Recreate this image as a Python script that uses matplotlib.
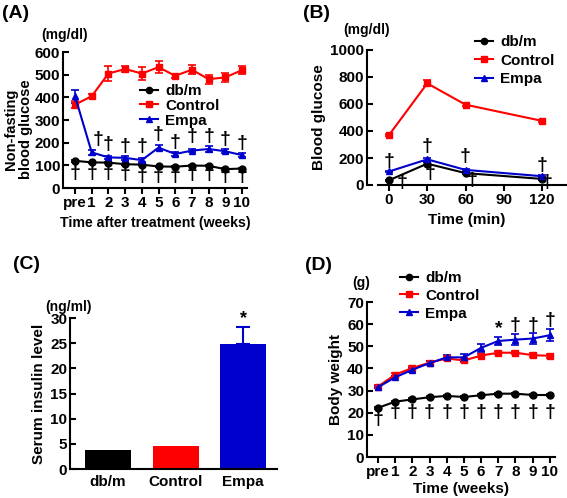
import matplotlib
matplotlib.use('Agg')
import matplotlib.pyplot as plt
from matplotlib.lines import Line2D

plt.rcParams['font.family'] = ['Liberation Sans', 'DejaVu Sans']
plt.rcParams['font.weight'] = 'bold'
plt.rcParams['axes.labelweight'] = 'bold'
plt.rcParams['font.size'] = 10

# ====== Data ======
groups = ['db/m', 'Control', 'Empa']
colors = ['black', '#ff0000', '#0000cc']
markers = ['o', 's', '^']

# (A) non-fasting blood glucose
weeks_labels = ['pre', '1', '2', '3', '4', '5', '6', '7', '8', '9', '10']
weeks = list(range(11))
a_dbm = [120, 113, 112, 105, 103, 95, 94, 99, 98, 83, 86]
a_dbm_err = [4, 3, 3, 3, 3, 3, 3, 3, 3, 4, 3]
a_ctrl = [368, 405, 505, 525, 505, 533, 495, 522, 480, 488, 520]
a_ctrl_err = [15, 8, 35, 12, 30, 27, 8, 20, 20, 20, 18]
a_empa = [405, 157, 135, 133, 123, 178, 150, 165, 172, 162, 145]
a_empa_err = [28, 10, 8, 8, 8, 12, 8, 8, 12, 8, 8]
a_dag_hi_x = [1.35, 2, 3, 4, 5, 6, 7, 8, 9, 10]
a_dag_hi_y = [213, 191, 184, 184, 235, 200, 228, 228, 213, 195]
a_dag_lo_y = [66, 66, 66, 58, 50, 51, 51, 58, 58, 50, 51]

# (B) glucose tolerance
minutes = [0, 30, 60, 120]
b_dbm = [35, 158, 88, 45]
b_dbm_err = [5, 10, 6, 5]
b_ctrl = [370, 753, 595, 475]
b_ctrl_err = [10, 22, 12, 10]
b_empa = [100, 190, 112, 65]
b_empa_err = [6, 10, 8, 6]
b_dag_hi_y = [173, 284, 210, 143]
b_dag_lo_x = [10, 32, 65, 124]
b_dag_lo_y = [17, 86, 37, 17]

# (C) serum insulin
c_vals = [3.8, 4.5, 24.8]
c_errs = [0, 0, 3.4]

# (D) body weight
d_labels = ['pre', '1', '2', '3', '4', '5', '6', '7', '8', '9', '10']
d_dbm = [22.2, 25.0, 26.0, 27.0, 27.6, 27.1, 27.9, 28.6, 28.6, 28.0, 28.0]
d_dbm_err = [0.5, 0.5, 0.5, 0.5, 0.5, 0.5, 0.5, 0.5, 0.5, 0.5, 0.5]
d_ctrl = [31.8, 37.2, 40.2, 42.6, 44.5, 43.6, 45.8, 47.1, 47.1, 46.0, 45.7]
d_ctrl_err = [0.5, 0.6, 0.7, 0.7, 0.8, 0.8, 0.8, 0.8, 0.8, 0.8, 0.8]
d_empa = [31.5, 36.0, 39.4, 42.4, 45.0, 45.0, 49.3, 52.4, 53.0, 53.5, 55.0]
d_empa_err = [0.5, 0.5, 0.8, 0.8, 1.0, 1.5, 1.8, 2.0, 2.5, 2.5, 2.7]
d_dag_lo_y = [17, 20, 20, 20, 20, 20, 20, 20, 20, 20, 20]
d_mark_x = [7, 8, 9, 10]
d_mark_txt = ['*', '†', '†', '†']
d_mark_y = [57.8, 59.3, 59.3, 61.8]

W, H = 567, 498
fig = plt.figure(figsize=(W / 100, H / 100), dpi=100)


def px_axes(x0, y_top, x1, y_bot):
    return fig.add_axes([x0 / W, 1 - y_bot / H, (x1 - x0) / W, (y_bot - y_top) / H])


def style(ax):
    ax.spines['top'].set_visible(False)
    ax.spines['right'].set_visible(False)
    for s in ('left', 'bottom'):
        ax.spines[s].set_linewidth(1.5)
    ax.tick_params(width=1.5, length=4, labelsize=11)
    ax.tick_params(axis='y', direction='in', pad=2)
    ax.tick_params(axis='x', direction='out', pad=2)
    for lab in ax.get_xticklabels() + ax.get_yticklabels():
        lab.set_fontweight('bold')


def series(ax, x, ys, errs):
    for y, e, c, m, g in zip(ys, errs, colors, markers, groups):
        ax.errorbar(x, y, yerr=e, color=c, marker=m, markersize=5, lw=1.5,
                    capsize=3, elinewidth=1.2, capthick=1.2)


def legend(ax, x, y, spacing):
    handles = [Line2D([], [], color=c, marker=m, markersize=4.5, lw=1.5)
               for c, m in zip(colors, markers)]
    ax.legend(handles, groups, loc='upper left', bbox_to_anchor=(x / W, 1 - y / H),
              bbox_transform=fig.transFigure, frameon=False, fontsize=11,
              handlelength=1.2, handletextpad=0.45, labelspacing=spacing,
              borderpad=0, borderaxespad=0)


def dag(ax, x, y, t='†', size=14):
    ax.text(x, y, t, ha='center', va='center', fontsize=size, fontweight='bold')


# ====== (A) ======
axA = px_axes(63, 52, 247, 188)
series(axA, weeks, [a_dbm, a_ctrl, a_empa], [a_dbm_err, a_ctrl_err, a_empa_err])
axA.set_xlim(-0.72, 10.3)
axA.set_ylim(0, 600)
axA.set_yticks(range(0, 601, 100))
axA.set_xticks(weeks)
axA.set_xticklabels(weeks_labels)
axA.set_ylabel('Non-fasting\nblood glucose', fontsize=10.5, linespacing=1.05)
axA.yaxis.set_label_coords(-0.165, 0.43)
axA.set_xlabel('Time after treatment (weeks)', fontsize=10.2, labelpad=4)
style(axA)
for x, y in zip(a_dag_hi_x, a_dag_hi_y):
    dag(axA, x, y)
for x, y in zip(weeks, a_dag_lo_y):
    dag(axA, x, y)
legend(axA, 140, 84, 0.05)
fig.text(65 / W, 1 - 35 / H, '(mg/dl)', ha='center', va='center', fontsize=10, fontweight='bold')
fig.text(2 / W, 1 - 14 / H, '(A)', ha='left', va='center', fontsize=14, fontweight='bold')

# ====== (B) ======
axB = px_axes(367, 50, 567, 185)
series(axB, minutes, [b_dbm, b_ctrl, b_empa], [b_dbm_err, b_ctrl_err, b_empa_err])
axB.set_xlim(-17.25, 139.6)
axB.set_ylim(0, 1000)
axB.set_yticks(range(0, 1001, 200))
axB.set_xticks([0, 30, 60, 90, 120])
axB.spines['bottom'].set_bounds(-8.6, 139.6)
axB.set_ylabel('Blood glucose', fontsize=11, labelpad=3)
axB.set_xlabel('Time (min)', fontsize=11, labelpad=4)
style(axB)
for x, y in zip(minutes, b_dag_hi_y):
    dag(axB, x, y)
for x, y in zip(b_dag_lo_x, b_dag_lo_y):
    dag(axB, x, y)
legend(axB, 475, 35, 0.3)
fig.text(367 / W, 1 - 30 / H, '(mg/dl)', ha='center', va='center', fontsize=10, fontweight='bold')
fig.text(303 / W, 1 - 14 / H, '(B)', ha='left', va='center', fontsize=14, fontweight='bold')

# ====== (C) ======
axC = px_axes(70, 318, 277, 469)
xc = list(range(len(groups)))
axC.bar(xc, c_vals, width=0.68, color=colors)
axC.errorbar(xc[2:], c_vals[2:], yerr=[[0], c_errs[2:]], fmt='none', ecolor=colors[2],
             capsize=5, elinewidth=1.5, capthick=1.5)
axC.set_xlim(-0.56, 2.5)
axC.set_ylim(0, 30)
axC.set_yticks(range(0, 31, 5))
axC.set_xticks(xc)
axC.set_xticklabels(groups)
axC.set_ylabel('Serum insulin level', fontsize=11, labelpad=3)
style(axC)
axC.tick_params(axis='x', length=0, pad=4)
dag(axC, 2, 29.8, '*', 13)
fig.text(68 / W, 1 - 307 / H, '(ng/ml)', ha='center', va='center', fontsize=10, fontweight='bold')
fig.text(13 / W, 1 - 264 / H, '(C)', ha='left', va='center', fontsize=14, fontweight='bold')

# ====== (D) ======
axD = px_axes(367, 302, 555, 457)
series(axD, weeks, [d_dbm, d_ctrl, d_empa], [d_dbm_err, d_ctrl_err, d_empa_err])
axD.set_xlim(-0.64, 10.3)
axD.set_ylim(0, 70)
axD.set_yticks(range(0, 71, 10))
axD.set_xticks(weeks)
axD.set_xticklabels(d_labels)
axD.spines['bottom'].set_bounds(-0.35, 10.3)
axD.set_ylabel('Body weight', fontsize=11, labelpad=3)
axD.set_xlabel('Time (weeks)', fontsize=11, labelpad=2)
style(axD)
for x, y in zip(weeks, d_dag_lo_y):
    dag(axD, x, y)
for x, y, t in zip(d_mark_x, d_mark_y, d_mark_txt):
    dag(axD, x, y, t)
legend(axD, 400, 271, 0.25)
fig.text(361 / W, 1 - 283 / H, '(g)', ha='center', va='center', fontsize=10, fontweight='bold')
fig.text(305 / W, 1 - 265 / H, '(D)', ha='left', va='center', fontsize=14, fontweight='bold')

fig.savefig('out.png', dpi=100)
